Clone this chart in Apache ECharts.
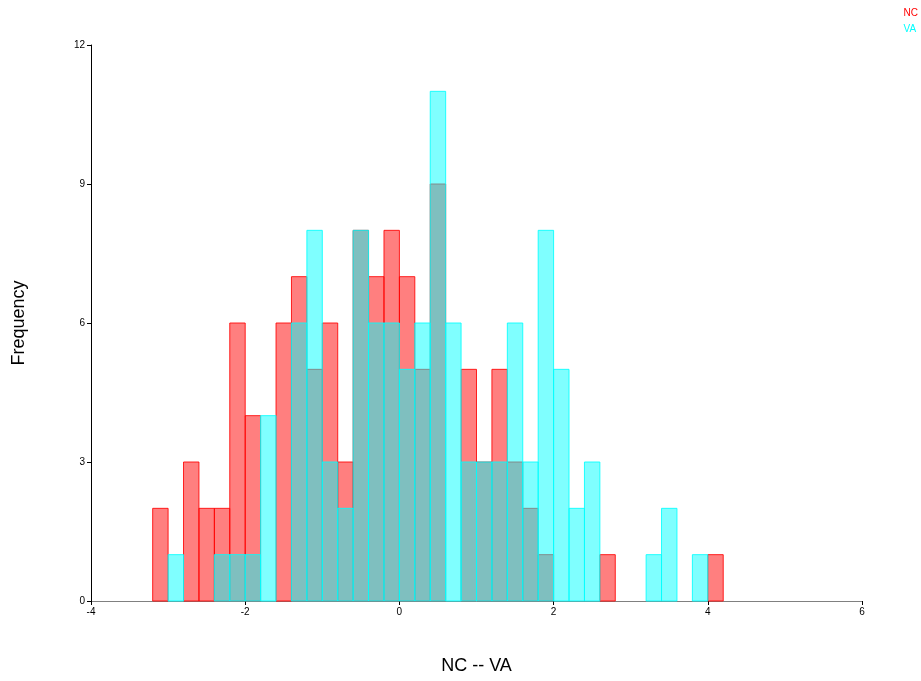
<!DOCTYPE html>
<html>
<head>
<meta charset="utf-8">
<script src="https://cdn.jsdelivr.net/npm/echarts@6/dist/echarts.min.js"></script>
<style>html,body{margin:0;padding:0;background:#fff}#c{width:921px;height:681px}</style>
</head>
<body>
<div id="c"></div>
<script>
const binStarts = [-3.2,-3.0,-2.8,-2.6,-2.4,-2.2,-2.0,-1.8,-1.6,-1.4,-1.2,-1.0,-0.8,-0.6,-0.4,-0.2,0.0,0.2,0.4,0.6,0.8,1.0,1.2,1.4,1.6,1.8,2.0,2.2,2.4,2.6,2.8,3.0,3.2,3.4,3.6,3.8,4.0];
const binWidth = 0.2;
const ncCounts = [2,0,3,2,2,6,4,0,6,7,5,6,3,8,7,8,7,5,9,0,5,3,5,3,2,1,0,0,0,1,0,0,0,0,0,0,1];
const vaCounts = [0,1,0,0,1,1,1,4,0,6,8,3,2,8,6,6,5,6,11,6,3,3,3,6,3,8,5,2,3,0,0,0,1,2,0,1,0];
const xTicks = [-4,-2,0,2,4,6];
const yTicks = [0,3,6,9,12];

function mk(counts){
  return binStarts.map((s,i)=>[s, s+binWidth, counts[i]]).filter(d=>d[2]>0);
}
function renderItem(fill, stroke){
  return function(params, api){
    const p0 = api.coord([api.value(0), 0]);
    const p1 = api.coord([api.value(1), api.value(2)]);
    return {type:'rect', shape:{x:p0[0], y:p1[1], width:p1[0]-p0[0], height:p0[1]-p1[1]},
      style:{fill:fill, stroke:stroke, lineWidth:1}};
  };
}
const chart = echarts.init(document.getElementById('c'));
chart.setOption({
  animation:false,
  textStyle:{fontFamily:'Liberation Sans, Arial, sans-serif'},
  legend:{right:3, top:8, padding:0, orient:'vertical', itemWidth:0, itemHeight:0, itemGap:6,
    textStyle:{fontSize:10, fontFamily:'Liberation Sans, Arial, sans-serif'},
    data:[{name:'NC', textStyle:{color:'#ff0000'}},{name:'VA', textStyle:{color:'#00ffff'}}]},
  grid:{left:91, right:59, top:45, bottom:80},
  xAxis:{type:'value', min:xTicks[0], max:xTicks[xTicks.length-1], interval:2,
    name:'NC -- VA', nameLocation:'middle', nameGap:56,
    nameTextStyle:{fontSize:18, color:'#000'},
    axisLine:{onZero:false, lineStyle:{color:'#808080', width:1}},
    axisTick:{show:true, length:4, lineStyle:{color:'#000'}},
    axisLabel:{fontSize:10, color:'#000', margin:6},
    splitLine:{show:false}},
  yAxis:{type:'value', min:yTicks[0], max:yTicks[yTicks.length-1], interval:3,
    name:'Frequency', nameLocation:'middle', nameGap:63,
    nameTextStyle:{fontSize:18, color:'#000'},
    axisLine:{show:true, onZero:false, lineStyle:{color:'#000', width:1}},
    axisTick:{show:true, length:4, lineStyle:{color:'#000'}},
    axisLabel:{fontSize:10, color:'#000', margin:6},
    splitLine:{show:false}},
  series:[
    {name:'NC', type:'custom', data:mk(ncCounts), encode:{x:[0,1], y:2},
      itemStyle:{color:'#ff0000'},
      renderItem:renderItem('rgba(255,0,0,0.5)','rgba(255,0,0,0.85)')},
    {name:'VA', type:'custom', data:mk(vaCounts), encode:{x:[0,1], y:2},
      itemStyle:{color:'#00ffff'},
      renderItem:renderItem('rgba(0,255,255,0.5)','rgba(0,255,255,0.85)')}
  ]
});
</script>
</body>
</html>
